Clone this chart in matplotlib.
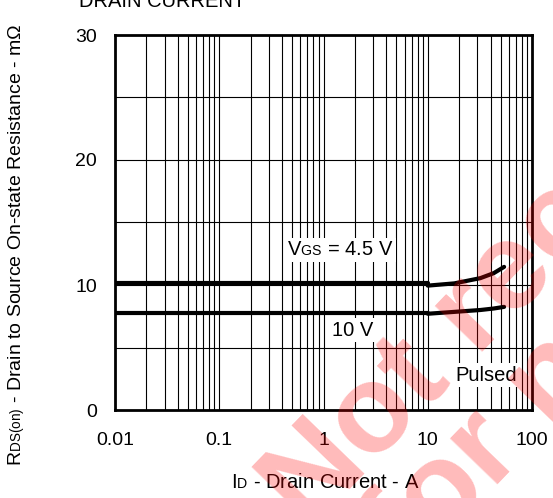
import numpy as np
import matplotlib
matplotlib.use('Agg')
import matplotlib.pyplot as plt
import matplotlib._mathtext as mt

plt.rcParams['font.family'] = ['Liberation Sans', 'DejaVu Sans']
plt.rcParams['mathtext.fontset'] = 'custom'
plt.rcParams['mathtext.rm'] = 'Liberation Sans'
plt.rcParams['mathtext.it'] = 'Liberation Sans'
# datasheet-style subscripts sit almost on the baseline
mt.FontConstantsBase.subdrop = 0.0
mt.FontConstantsBase.sub1 = 0.08

# flat part of each curve (0.01 A .. 10 A)
id_flat = [0.01, 0.1, 1, 10]
r45_flat = [10.13, 10.13, 10.13, 10.13]
r10_flat = [7.8, 7.8, 7.8, 7.8]
# rising part above 10 A
id_high = [10, 18, 32, 43, 54]
r45_high = [9.95, 10.13, 10.55, 10.95, 11.45]
r10_high = [7.7, 7.85, 8.0, 8.12, 8.25]

x_ticks = [0.01, 0.1, 1, 10, 100]
x_tick_labels = ['0.01', '0.1', '1', '10', '100']
y_ticks = [0, 10, 20, 30]

fig = plt.figure(figsize=(5.53, 4.98), dpi=100)
W, H = 553.0, 498.0
ax = fig.add_axes([115 / W, (H - 410) / H, (532 - 115) / W, (410 - 35) / H])

ax.set_xscale('log')
ax.set_xlim(0.01, 100)
ax.set_ylim(0, 30)

# grid: every 1..9 of each decade, every 5 mOhm
for dec in [0.01, 0.1, 1, 10]:
    for k in range(2, 10):
        ax.axvline(dec * k, color='black', lw=0.8, zorder=1)
for dec in [0.1, 1, 10]:
    ax.axvline(dec, color='black', lw=0.8, zorder=1)
for yv in [5, 10, 15, 20, 25]:
    ax.axhline(yv, color='black', lw=0.8, zorder=1)

for xs, ys in [(id_flat, r45_flat), (id_high, r45_high),
               (id_flat, r10_flat), (id_high, r10_high)]:
    ax.plot(xs, ys, color='black', lw=3.0, solid_capstyle='round', zorder=3)

ax.set_xticks(x_ticks)
ax.set_xticklabels(x_tick_labels)
ax.set_yticks(y_ticks)
ax.minorticks_off()
ax.tick_params(length=0, labelsize=14)
ax.tick_params(axis='x', pad=16)
ax.tick_params(axis='y', pad=13)
for s in ax.spines.values():
    s.set_linewidth(2.0)
    s.set_zorder(4)

box = dict(facecolor='white', edgecolor='none', pad=1.5)
ax.text(1.46, 12.8, r'V$_{\mathrm{GS}}$ = 4.5 V', fontsize=14.5, ha='center', va='center', bbox=box, zorder=5)
ax.text(1.9, 6.4, '10 V', fontsize=14.5, ha='center', va='center', bbox=box, zorder=5)
ax.text(36, 2.8, 'Pulsed', fontsize=14.5, ha='center', va='center', bbox=box, zorder=5)

fig.text(17 / W, 1 - 245 / H, r'R$_{\mathrm{DS(on)}}$ - Drain to Source On-state Resistance - m$\Omega$',
         rotation=90, ha='center', va='center', fontsize=14)
fig.text(325 / W, 1 - 482 / H, r'I$_{\mathrm{D}}$ - Drain Current - A', ha='center', va='center', fontsize=14.5)
fig.text(162 / W, 1 - 7 / H, 'DRAIN CURRENT', ha='center', va='baseline', fontsize=14.5)

# watermark
wm = dict(fontsize=90, fontweight='bold', color='red', alpha=0.27, rotation=46,
          rotation_mode='anchor', ha='left', va='baseline', zorder=10)
fig.text(308 / W, 1 - 532 / H, 'Not recommended', **wm)
fig.text(410 / W, 1 - 575 / H, 'for new design', **wm)

fig.savefig('out.png', dpi=100)
